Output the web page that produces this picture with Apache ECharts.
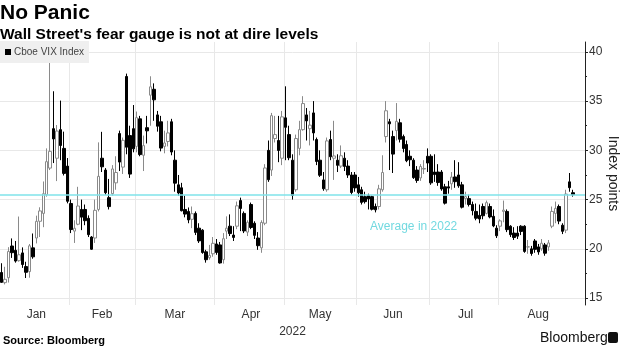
<!DOCTYPE html>
<html><head><meta charset="utf-8">
<script src="https://cdn.jsdelivr.net/npm/echarts@6/dist/echarts.min.js"></script>
<style>html,body{margin:0;padding:0;background:#fff}#c{width:620px;height:348px}</style>
</head><body><div id="c"></div>
<script>
const dates = ["01-03","01-04","01-05","01-06","01-07","01-10","01-11","01-12","01-13","01-14","01-18","01-19","01-20","01-21","01-24","01-25","01-26","01-27","01-28","01-31",
"02-01","02-02","02-03","02-04","02-07","02-08","02-09","02-10","02-11","02-14","02-15","02-16","02-17","02-18","02-22","02-23","02-24","02-25","02-28",
"03-01","03-02","03-03","03-04","03-07","03-08","03-09","03-10","03-11","03-14","03-15","03-16","03-17","03-18","03-21","03-22","03-23","03-24","03-25","03-28","03-29","03-30","03-31",
"04-01","04-04","04-05","04-06","04-07","04-08","04-11","04-12","04-13","04-14","04-18","04-19","04-20","04-21","04-22","04-25","04-26","04-27","04-28","04-29",
"05-02","05-03","05-04","05-05","05-06","05-09","05-10","05-11","05-12","05-13","05-16","05-17","05-18","05-19","05-20","05-23","05-24","05-25","05-26","05-27","05-31",
"06-01","06-02","06-03","06-06","06-07","06-08","06-09","06-10","06-13","06-14","06-15","06-16","06-17","06-21","06-22","06-23","06-24","06-27","06-28","06-29","06-30",
"07-01","07-05","07-06","07-07","07-08","07-11","07-12","07-13","07-14","07-15","07-18","07-19","07-20","07-21","07-22","07-25","07-26","07-27","07-28","07-29",
"08-01","08-02","08-03","08-04","08-05","08-08","08-09","08-10","08-11","08-12","08-15","08-16","08-17","08-18","08-19","08-22","08-23","08-24","08-25","08-26","08-29","08-30"];
const opens = [17.60,16.57,17.07,20.29,19.85,18.80,19.59,18.20,17.69,20.10,21.10,22.80,23.60,25.50,28.20,32.20,29.20,32.10,30.20,28.40,
24.60,21.80,22.50,24.00,24.00,23.10,21.20,21.10,24.00,29.20,28.00,25.20,25.60,26.70,31.70,28.30,37.50,31.50,32.20,
30.40,33.20,29.50,32.30,35.60,36.20,33.60,32.90,30.40,30.90,32.90,29.00,26.50,26.20,24.00,23.80,23.00,23.60,22.10,21.90,19.70,19.10,19.50,
20.50,20.40,18.90,21.80,22.30,21.40,22.30,24.90,23.60,21.70,24.50,22.60,21.10,20.10,22.60,30.00,28.00,31.20,31.00,29.20,
33.30,31.60,29.00,26.00,30.20,32.10,33.60,32.20,33.80,31.10,29.00,27.00,26.00,31.10,29.20,29.00,28.40,29.20,28.40,27.50,27.50,
26.50,26.00,25.30,25.40,25.30,24.30,24.30,26.00,31.40,32.90,31.40,32.00,32.80,31.40,30.60,29.40,29.00,28.00,27.20,28.10,29.40,
29.40,27.80,27.80,27.80,26.30,26.30,26.60,27.30,27.50,26.50,25.10,25.10,24.50,23.80,23.40,24.30,23.60,24.30,23.30,22.10,
22.30,23.80,23.80,22.30,21.60,21.60,22.30,22.30,20.20,20.00,20.80,20.20,20.00,20.40,20.20,22.30,23.60,24.30,22.40,21.90,26.80,25.70];
const closes = [16.60,16.91,19.73,19.61,18.76,19.40,18.41,17.62,20.31,19.19,22.79,23.85,25.59,28.85,29.90,31.16,31.96,30.49,27.66,24.83,
21.96,22.09,24.35,23.22,22.86,21.44,19.96,23.91,27.36,28.33,25.70,24.29,28.11,27.75,28.81,31.02,30.32,27.59,30.15,
33.32,29.57,30.48,31.98,36.45,35.13,32.45,30.23,30.75,31.77,29.83,26.67,25.67,23.87,23.53,22.94,23.57,21.67,20.81,19.63,18.90,19.33,20.56,
19.63,18.57,21.03,22.10,21.55,21.16,24.37,24.10,21.82,22.70,22.17,21.37,20.32,22.68,28.21,27.02,33.52,31.60,29.99,33.40,
32.34,29.25,25.42,31.20,32.10,34.75,32.99,32.56,31.77,28.87,27.47,26.10,30.96,29.35,29.43,28.48,29.45,28.37,27.50,25.72,26.19,
25.69,24.72,24.79,25.07,24.02,23.96,26.09,27.75,34.02,32.69,29.62,32.95,31.13,30.19,28.95,29.05,27.23,26.95,28.36,28.16,28.71,
26.70,27.54,26.73,26.08,24.64,26.17,27.29,26.82,26.40,24.23,25.30,24.50,23.88,23.11,23.03,23.36,24.69,23.24,22.33,21.33,
22.84,23.93,21.95,21.44,21.15,21.29,21.77,19.74,20.20,19.53,19.95,19.69,20.57,19.56,20.60,23.80,24.11,22.82,21.78,25.56,26.21,25.50];
const lows = [16.56,16.39,16.58,19.08,18.60,18.70,18.07,17.04,17.07,19.00,20.55,21.20,22.20,25.30,28.00,28.71,26.88,29.00,27.45,24.62,
21.60,20.60,22.40,21.90,22.40,21.20,19.90,20.60,23.80,27.80,25.50,24.00,25.40,26.00,27.90,27.60,29.60,27.20,29.80,
29.80,29.40,27.90,30.70,32.50,33.00,31.90,29.90,29.70,30.40,29.50,25.80,25.40,23.80,23.20,22.60,22.10,21.40,20.60,19.50,18.60,18.90,19.20,
19.40,18.50,18.50,21.00,21.30,20.80,22.00,21.80,21.60,21.30,22.00,21.00,19.90,19.60,22.40,26.80,27.40,30.80,28.80,28.50,
29.00,29.00,25.00,25.80,29.50,32.00,31.00,30.50,31.00,28.50,27.30,25.90,25.80,29.00,27.00,27.80,28.20,27.90,27.20,25.50,25.80,
25.30,24.50,24.60,24.00,23.90,23.70,24.00,25.80,30.80,28.00,27.70,31.00,30.80,29.80,28.80,28.40,27.10,26.70,26.90,27.60,27.80,
26.50,26.80,26.40,25.90,24.50,25.60,26.00,26.20,26.20,24.10,24.50,24.30,23.40,22.90,22.60,23.00,23.50,23.10,22.20,21.10,
21.80,22.70,21.70,21.20,20.90,21.00,21.40,19.60,19.50,19.30,19.60,19.40,19.80,19.30,19.80,22.10,22.60,22.50,21.50,21.60,25.80,25.30];
const highs = [18.54,18.18,20.17,21.06,20.80,23.28,20.15,18.69,20.49,21.56,23.37,24.22,26.84,30.20,38.94,36.00,32.57,35.05,31.90,29.22,
25.00,22.90,26.30,25.00,24.50,23.40,21.30,25.00,30.81,31.88,28.20,27.10,28.50,29.40,32.00,31.30,37.79,32.50,34.60,
33.94,33.50,31.50,33.50,37.52,36.80,34.00,33.50,32.00,33.00,33.20,30.00,27.50,26.70,25.40,24.20,24.30,23.80,22.60,22.00,19.90,20.40,21.20,
21.00,20.70,21.60,23.30,23.50,22.30,24.80,25.20,23.80,22.90,24.70,22.80,21.70,22.90,28.60,31.00,33.80,33.50,33.50,34.00,
36.50,32.50,29.60,31.60,33.00,35.50,34.30,34.00,35.00,31.30,30.00,27.80,31.30,32.00,33.00,29.60,30.50,29.80,29.00,27.80,27.80,
27.30,26.30,25.80,25.60,25.40,24.60,26.50,29.50,35.00,33.20,32.00,34.80,33.20,31.60,31.00,30.00,29.20,28.40,28.60,29.00,30.20,
29.60,29.60,28.60,28.00,26.60,26.90,27.80,29.00,28.80,26.80,25.80,25.50,24.80,24.60,24.50,24.60,24.90,24.60,24.00,22.40,
23.00,24.90,24.00,22.40,22.20,22.30,22.40,22.40,20.90,20.30,21.00,20.50,21.00,20.60,20.90,24.30,24.80,24.50,22.60,26.00,27.70,26.00];
const monthNames = {"01":"Jan","02":"Feb","03":"Mar","04":"Apr","05":"May","06":"Jun","07":"Jul","08":"Aug"};
const yTicks = [15,20,25,30,35,40];
const yMinorTicks = [17.5,22.5,27.5,32.5,37.5];
const averageValue = 25.5;
const seriesName = "Cboe VIX Index";

const cats = dates.concat(["p1","p2","p3"]);
const candle = dates.map((d,i)=>[opens[i],closes[i],lows[i],highs[i]]);
const monthStart = new Set(), monthMid = new Set();
(function(){
  let groups = {};
  dates.forEach((d,i)=>{const m=d.slice(0,2); (groups[m]=groups[m]||[]).push(i);});
  Object.keys(groups).forEach(m=>{const g=groups[m]; monthStart.add(g[0]); monthMid.add(g[Math.floor(g.length/2)]);});
})();
const FONT = "'Liberation Sans', Arial, sans-serif";
const chart = echarts.init(document.getElementById('c'), null, {renderer:'canvas'});
chart.setOption({
  animation:false,
  backgroundColor:'#fff',
  title:[
    {text:'No Panic', left:0, top:3, padding:0, textStyle:{fontFamily:FONT, fontSize:21, fontWeight:'bold', color:'#000'}},
    {text:"Wall Street's fear gauge is not at dire levels", left:0, top:27, padding:0, textStyle:{fontFamily:FONT, fontSize:15.5, fontWeight:'bold', color:'#000'}}
  ],
  legend:{
    left:0, top:41, padding:[6,5,6,5], backgroundColor:'#efefef',
    itemWidth:6, itemHeight:6, itemGap:4,
    textStyle:{fontFamily:FONT, fontSize:10, color:'#444', padding:[0,0,0,-2]},
    data:[{name:seriesName, icon:'rect', itemStyle:{color:'#000', borderWidth:0}}]
  },
  grid:{left:0, right:35, top:42, bottom:43, outerBoundsMode:'none', containLabel:false},
  xAxis:{
    type:'category', data:cats, boundaryGap:true,
    axisLine:{show:false}, axisTick:{show:false},
    axisLabel:{interval:(i)=>monthMid.has(i), formatter:(v)=>monthNames[v.slice(0,2)]||'', margin:4,
      fontFamily:FONT, fontSize:12, color:'#333'},
    splitLine:{show:true, interval:(i)=>monthStart.has(i) && i>0, lineStyle:{color:'#e8e8e8', width:1}},
    name:'2022', nameLocation:'middle', nameGap:18, nameTextStyle:{fontFamily:FONT, fontSize:12, color:'#333'}
  },
  yAxis:[{
    type:'value', position:'right', min:14.3, max:41, scale:true,
    axisLine:{show:true, lineStyle:{color:'#222', width:1}},
    axisTick:{show:true, length:3, customValues:yTicks, lineStyle:{color:'#222'}},
    axisLabel:{customValues:yTicks, margin:4, fontFamily:FONT, fontSize:12, color:'#333'},
    splitLine:{show:true, lineStyle:{color:'#e8e8e8', width:1}},
    name:'Index points', nameLocation:'middle', nameRotate:-90, nameGap:21, nameMoveOverlap:false,
    nameTextStyle:{fontFamily:FONT, fontSize:14, color:'#222'}
  },{
    type:'value', position:'right', min:14.3, max:41,
    axisLine:{show:false}, axisLabel:{show:false}, splitLine:{show:false},
    axisTick:{show:true, length:2, customValues:yMinorTicks, lineStyle:{color:'#222'}}
  }],
  series:[{
    name:seriesName, type:'candlestick', data:candle, barWidth:3,
    itemStyle:{color:'#fff', color0:'#000', borderColor:'#8a8a8a', borderColor0:'#000', borderWidth:1},
    markLine:{silent:true, symbol:'none', label:{show:false},
      lineStyle:{color:'#7fe3ea', width:1.5, type:'solid'},
      data:[{yAxis:averageValue}]},
    markPoint:{silent:true, symbol:'circle', symbolSize:0,
      label:{show:true, formatter:'Average in 2022', fontFamily:FONT, fontSize:12, color:'#72d9e0'},
      data:[{coord:['06-24', 22.2]}]}
  }],
  graphic:[
    {type:'text', left:3, top:335, style:{text:'Source: Bloomberg', font:"bold 11px "+FONT, fill:'#000'}},
    {type:'text', left:540, top:331, style:{text:'Bloomberg', font:"500 14px "+FONT, fill:'#111'}},
    {type:'rect', left:608, top:332, shape:{width:10, height:11, r:2}, style:{fill:'#111'}}
  ]
});
</script></body></html>
